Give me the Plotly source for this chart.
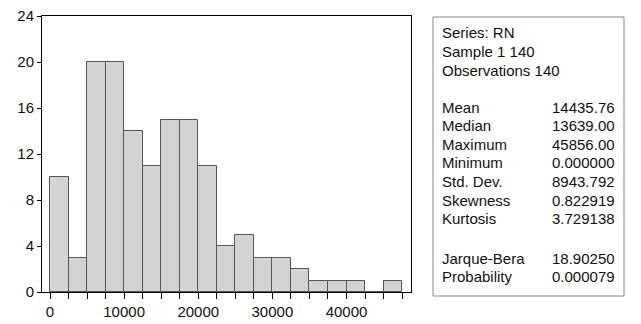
import numpy as np
import plotly.graph_objects as go

# ---- data ----
bin_width = 2500
bin_start = 0
counts = [10, 3, 20, 20, 14, 11, 15, 15, 11, 4, 5, 3, 3, 2, 1, 1, 1, 0, 1]
y_ticks = [0, 4, 8, 12, 16, 20, 24]
x_label_ticks = [0, 10000, 20000, 30000, 40000]
stat_header = ["Series: RN", "Sample 1 140", "Observations 140"]
stat_names = ["Mean", "Median", "Maximum", "Minimum", "Std. Dev.", "Skewness", "Kurtosis"]
stat_values = ["14435.76", "13639.00", "45856.00", "0.000000", "8943.792", "0.822919", "3.729138"]
test_names = ["Jarque-Bera", "Probability"]
test_values = ["18.90250", "0.000079"]

W, H = 641, 324
L, T, R, B = 42, 16, 411, 292  # plot area in pixels
pw, ph = R - L, B - T

def px(x):
    return (x - L) / pw

def py(y):
    return (B - y) / ph

n = len(counts)
centers = bin_start + bin_width * (np.arange(n) + 0.5)

fig = go.Figure()
fig.add_trace(go.Bar(
    x=centers, y=counts, width=bin_width,
    marker=dict(color="#d3d3d3", line=dict(color="#555555", width=1)),
    hoverinfo="x+y",
))

edge_ticks = list(bin_start + bin_width * np.arange(n + 1))
tick_text = [f"{int(v)}" if int(v) in x_label_ticks else "" for v in edge_ticks]

font = dict(family="Liberation Sans, Arial, sans-serif", size=15, color="#111111")

fig.update_layout(
    template="none",
    width=W, height=H,
    margin=dict(l=L, r=W - R, t=T, b=H - B, pad=0),
    plot_bgcolor="white", paper_bgcolor="white",
    showlegend=False, bargap=0,
    font=font,
    xaxis=dict(
        range=[-1080, 48700], tickmode="array", tickvals=edge_ticks, ticktext=tick_text,
        ticks="outside", ticklen=6, tickcolor="#000", tickwidth=1,
        showline=True, linecolor="#000", linewidth=1, mirror=True,
        showgrid=False, zeroline=False, fixedrange=True, automargin=False,
        tickfont=dict(size=15),
    ),
    yaxis=dict(
        range=[0, 24], tickmode="array", tickvals=y_ticks,
        ticks="outside", ticklen=4, tickcolor="#000", tickwidth=1,
        showline=True, linecolor="#000", linewidth=1, mirror=True,
        showgrid=False, zeroline=False, fixedrange=True, automargin=False,
        tickfont=dict(size=15),
    ),
)

# stats box
fig.add_shape(type="rect", xref="paper", yref="paper",
              x0=px(433), x1=px(624), y0=py(296), y1=py(17),
              line=dict(color="#888888", width=1), fillcolor="white")

rows = []
yy = [32, 51, 70]
for t, y in zip(stat_header, yy):
    rows.append((t, None, y))
y0 = 107
for i, (nm, v) in enumerate(zip(stat_names, stat_values)):
    rows.append((nm, v, y0 + i * 18.6))
y1 = 258
for i, (nm, v) in enumerate(zip(test_names, test_values)):
    rows.append((nm, v, y1 + i * 18.6))

for nm, v, y in rows:
    fig.add_annotation(xref="paper", yref="paper", x=px(441), y=py(y),
                       text=nm, showarrow=False, xanchor="left", yanchor="middle",
                       font=font, borderpad=0)
    if v is not None:
        fig.add_annotation(xref="paper", yref="paper", x=px(616), y=py(y),
                           text=v, showarrow=False, xanchor="right", yanchor="middle",
                           font=font, borderpad=0)

fig.write_html("out.html")
